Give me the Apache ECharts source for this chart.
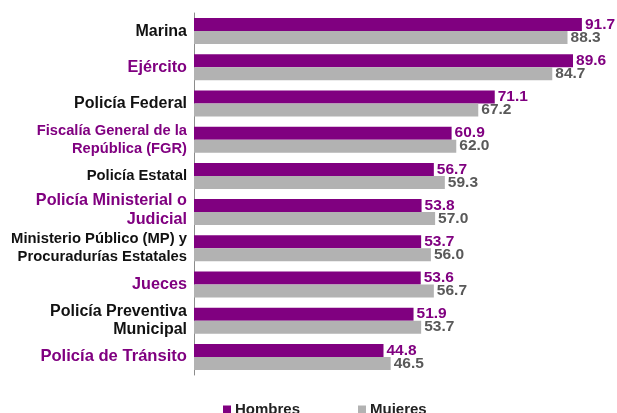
<!DOCTYPE html>
<html><head><meta charset="utf-8">
<script src="https://cdn.jsdelivr.net/npm/echarts@6/dist/echarts.min.js"></script>
<style>html,body{margin:0;padding:0;background:#fff}#c{width:617px;height:413px}</style>
</head><body><div id="c"></div>
<script>
const categories = ['Marina','Ejército','Policía Federal','Fiscalía General de la\nRepública (FGR)','Policía Estatal','Policía Ministerial o\nJudicial','Ministerio Público (MP) y\nProcuradurías Estatales','Jueces','Policía Preventiva\nMunicipal','Policía de Tránsito'];
const labelStyles = ['k16','p16','k16','p15','k15','pm','k15','p16','k16','p17'];
const hombres = [91.7,89.6,71.1,60.9,56.7,53.8,53.7,53.6,51.9,44.8];
const mujeres = [88.3,84.7,67.2,62.0,59.3,57.0,56.0,56.7,53.7,46.5];
const seriesNames = ['Hombres','Mujeres'];

const PURPLE = '#800080', GRAY = '#b2b2b2';
const ff = 'Liberation Sans, Arial, sans-serif';
const chart = echarts.init(document.getElementById('c'));
chart.setOption({
  animation:false,
  grid:{left:194, right:-1, top:13, bottom:38},
  legend:{top:397, left:218, itemWidth:8, itemHeight:8, itemGap:58, icon:'rect',
    textStyle:{fontFamily:ff, fontWeight:'bold', fontSize:15, color:'#222', padding:[0,0,0,-1]}, data:seriesNames},
  xAxis:{type:'value', min:0, max:100, show:false},
  yAxis:{type:'category', inverse:true, data:categories,
    axisLine:{lineStyle:{color:'#8c8c8c', width:1}},
    axisTick:{length:5, lineStyle:{color:'#8c8c8c'}},
    axisLabel:{margin:7, formatter:(v,i)=>'{'+labelStyles[i]+'|'+v.split('\n').join('}\n{'+labelStyles[i]+'|')+'}',
      rich:{
        k16:{fontFamily:ff, fontWeight:'bold', fontSize:16, color:'#111', lineHeight:18.5, align:'right'},
        k15:{fontFamily:ff, fontWeight:'bold', fontSize:14.8, color:'#111', lineHeight:18, align:'right'},
        p16:{fontFamily:ff, fontWeight:'bold', fontSize:16.2, color:PURPLE, lineHeight:19, align:'right'},
        pm:{fontFamily:ff, fontWeight:'bold', fontSize:16.2, color:PURPLE, lineHeight:19, align:'right', padding:[0,0,5,0]},
        p17:{fontFamily:ff, fontWeight:'bold', fontSize:16.6, color:PURPLE, lineHeight:20, align:'right'},
        p15:{fontFamily:ff, fontWeight:'bold', fontSize:14.7, color:PURPLE, lineHeight:18.5, align:'right'}
      }}},
  series:[
    {name:seriesNames[0], type:'bar', data:hombres, barWidth:13, barGap:'0%', itemStyle:{color:PURPLE},
      label:{show:true, position:'right', distance:3, formatter:p=>p.value.toFixed(1), fontFamily:ff, fontWeight:'bold', fontSize:15.5, color:PURPLE}},
    {name:seriesNames[1], type:'bar', data:mujeres, barWidth:13, itemStyle:{color:GRAY},
      label:{show:true, position:'right', distance:3, formatter:p=>p.value.toFixed(1), fontFamily:ff, fontWeight:'bold', fontSize:15.5, color:'#595959'}}
  ]
});
</script></body></html>
